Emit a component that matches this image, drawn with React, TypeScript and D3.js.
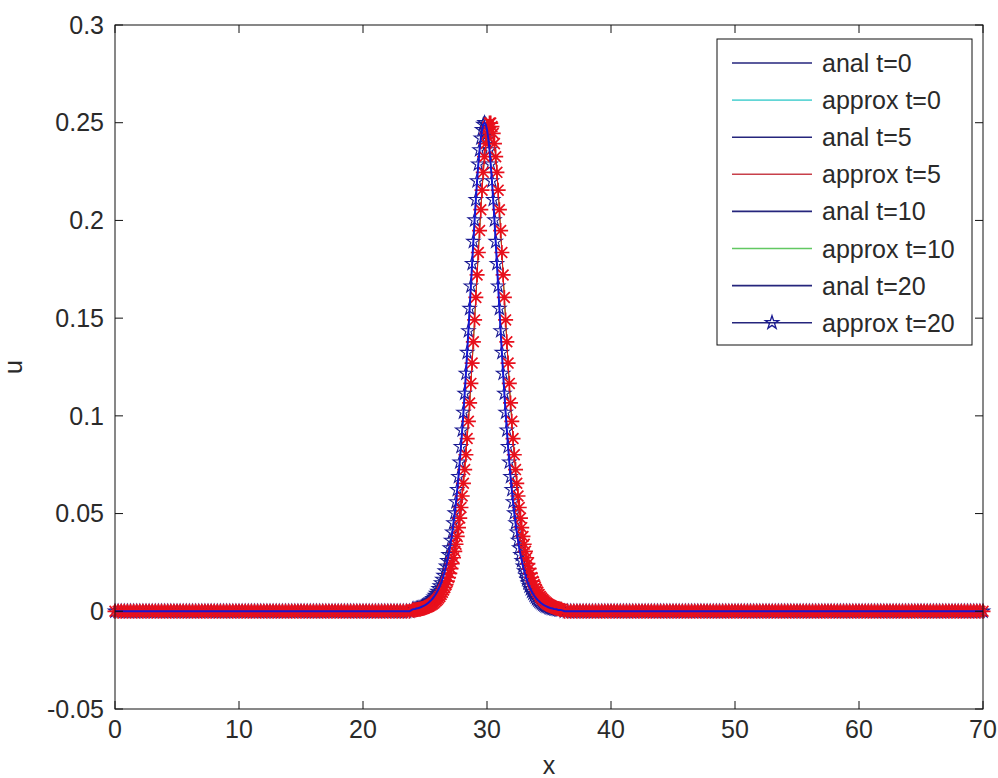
import React from "react";
import * as d3 from "d3";

// u(x) near the pulse, sampled every 0.1 from x=24 to x=36
const peakX = [
  24, 24.1, 24.2, 24.3, 24.4, 24.5, 24.6, 24.7, 24.8, 24.9,
  25, 25.1, 25.2, 25.3, 25.4, 25.5, 25.6, 25.7, 25.8, 25.9,
  26, 26.1, 26.2, 26.3, 26.4, 26.5, 26.6, 26.7, 26.8, 26.9,
  27, 27.1, 27.2, 27.3, 27.4, 27.5, 27.6, 27.7, 27.8, 27.9,
  28, 28.1, 28.2, 28.3, 28.4, 28.5, 28.6, 28.7, 28.8, 28.9,
  29, 29.1, 29.2, 29.3, 29.4, 29.5, 29.6, 29.7, 29.8, 29.9,
  30, 30.1, 30.2, 30.3, 30.4, 30.5, 30.6, 30.7, 30.8, 30.9,
  31, 31.1, 31.2, 31.3, 31.4, 31.5, 31.6, 31.7, 31.8, 31.9,
  32, 32.1, 32.2, 32.3, 32.4, 32.5, 32.6, 32.7, 32.8, 32.9,
  33, 33.1, 33.2, 33.3, 33.4, 33.5, 33.6, 33.7, 33.8, 33.9,
  34, 34.1, 34.2, 34.3, 34.4, 34.5, 34.6, 34.7, 34.8, 34.9,
  35, 35.1, 35.2, 35.3, 35.4, 35.5, 35.6, 35.7, 35.8, 35.9,
  36,
];

// blue curve (anal / approx t=20)
const blueU = [
  0.001, 0.0011, 0.0012, 0.0014, 0.0015, 0.0017, 0.0019, 0.0022, 0.0025, 0.0028,
  0.0031, 0.0035, 0.004, 0.0045, 0.0051, 0.0057, 0.0064, 0.0072, 0.0081, 0.0091,
  0.0102, 0.0115, 0.0129, 0.0145, 0.0163, 0.0183, 0.0206, 0.0231, 0.0259, 0.029,
  0.0324, 0.0363, 0.0405, 0.0452, 0.0503, 0.056, 0.0622, 0.0689, 0.0763, 0.0842,
  0.0927, 0.1018, 0.1115, 0.1217, 0.1324, 0.1435, 0.1549, 0.1664, 0.1779, 0.1892,
  0.2002, 0.2106, 0.2202, 0.2288, 0.2361, 0.2421, 0.2464, 0.2491, 0.25, 0.2491,
  0.2464, 0.2421, 0.2361, 0.2288, 0.2202, 0.2106, 0.2002, 0.1892, 0.1779, 0.1664,
  0.1549, 0.1435, 0.1324, 0.1217, 0.1115, 0.1018, 0.0927, 0.0842, 0.0763, 0.0689,
  0.0622, 0.056, 0.0503, 0.0452, 0.0405, 0.0363, 0.0324, 0.029, 0.0259, 0.0231,
  0.0206, 0.0183, 0.0163, 0.0145, 0.0129, 0.0115, 0.0102, 0.0091, 0.0081, 0.0072,
  0.0064, 0.0057, 0.0051, 0.0045, 0.004, 0.0035, 0.0031, 0.0028, 0.0025, 0.0022,
  0.0019, 0.0017, 0.0015, 0.0014, 0.0012, 0.0011, 0.001, 0.0008, 0.0007, 0.0007,
  0.0006,
];

// red asterisks (approx t=5), a little to the right
const redU = [
  0.0006, 0.0006, 0.0007, 0.0008, 0.0009, 0.001, 0.0011, 0.0013, 0.0014, 0.0016,
  0.0018, 0.0021, 0.0023, 0.0026, 0.003, 0.0033, 0.0037, 0.0042, 0.0048, 0.0054,
  0.006, 0.0068, 0.0076, 0.0086, 0.0097, 0.0109, 0.0122, 0.0137, 0.0154, 0.0173,
  0.0194, 0.0218, 0.0244, 0.0274, 0.0307, 0.0343, 0.0383, 0.0428, 0.0477, 0.0531,
  0.059, 0.0655, 0.0725, 0.0801, 0.0884, 0.0972, 0.1066, 0.1166, 0.127, 0.1379,
  0.1491, 0.1606, 0.1721, 0.1836, 0.1948, 0.2055, 0.2155, 0.2246, 0.2326, 0.2393,
  0.2445, 0.248, 0.2498, 0.2498, 0.248, 0.2445, 0.2393, 0.2326, 0.2246, 0.2155,
  0.2055, 0.1948, 0.1836, 0.1721, 0.1606, 0.1491, 0.1379, 0.127, 0.1166, 0.1066,
  0.0972, 0.0884, 0.0801, 0.0725, 0.0655, 0.059, 0.0531, 0.0477, 0.0428, 0.0383,
  0.0343, 0.0307, 0.0274, 0.0244, 0.0218, 0.0194, 0.0173, 0.0154, 0.0137, 0.0122,
  0.0109, 0.0097, 0.0086, 0.0076, 0.0068, 0.006, 0.0054, 0.0048, 0.0042, 0.0037,
  0.0033, 0.003, 0.0026, 0.0023, 0.0021, 0.0018, 0.0016, 0.0014, 0.0013, 0.0011,
  0.001,
];

// flat parts of the domain, where every curve sits at u = 0
const leftTailX = [
  0, 0.25, 0.5, 0.75, 1, 1.25, 1.5, 1.75, 2, 2.25, 2.5, 2.75, 3, 3.25, 3.5, 3.75,
  4, 4.25, 4.5, 4.75, 5, 5.25, 5.5, 5.75, 6, 6.25, 6.5, 6.75, 7, 7.25, 7.5, 7.75,
  8, 8.25, 8.5, 8.75, 9, 9.25, 9.5, 9.75, 10, 10.25, 10.5, 10.75, 11, 11.25, 11.5, 11.75,
  12, 12.25, 12.5, 12.75, 13, 13.25, 13.5, 13.75, 14, 14.25, 14.5, 14.75, 15, 15.25, 15.5, 15.75,
  16, 16.25, 16.5, 16.75, 17, 17.25, 17.5, 17.75, 18, 18.25, 18.5, 18.75, 19, 19.25, 19.5, 19.75,
  20, 20.25, 20.5, 20.75, 21, 21.25, 21.5, 21.75, 22, 22.25, 22.5, 22.75, 23, 23.25, 23.5, 23.75,
];
const rightTailX = [
  36.25, 36.5, 36.75, 37, 37.25, 37.5, 37.75, 38, 38.25, 38.5, 38.75, 39, 39.25, 39.5, 39.75,
  40, 40.25, 40.5, 40.75, 41, 41.25, 41.5, 41.75, 42, 42.25, 42.5, 42.75, 43, 43.25, 43.5, 43.75,
  44, 44.25, 44.5, 44.75, 45, 45.25, 45.5, 45.75, 46, 46.25, 46.5, 46.75, 47, 47.25, 47.5, 47.75,
  48, 48.25, 48.5, 48.75, 49, 49.25, 49.5, 49.75, 50, 50.25, 50.5, 50.75, 51, 51.25, 51.5, 51.75,
  52, 52.25, 52.5, 52.75, 53, 53.25, 53.5, 53.75, 54, 54.25, 54.5, 54.75, 55, 55.25, 55.5, 55.75,
  56, 56.25, 56.5, 56.75, 57, 57.25, 57.5, 57.75, 58, 58.25, 58.5, 58.75, 59, 59.25, 59.5, 59.75,
  60, 60.25, 60.5, 60.75, 61, 61.25, 61.5, 61.75, 62, 62.25, 62.5, 62.75, 63, 63.25, 63.5, 63.75,
  64, 64.25, 64.5, 64.75, 65, 65.25, 65.5, 65.75, 66, 66.25, 66.5, 66.75, 67, 67.25, 67.5, 67.75,
  68, 68.25, 68.5, 68.75, 69, 69.25, 69.5, 69.75, 70,
];

const xTicks = [0, 10, 20, 30, 40, 50, 60, 70];
const yTicks = [-0.05, 0, 0.05, 0.1, 0.15, 0.2, 0.25, 0.3];

const legendLabels = [
  "anal t=0",
  "approx t=0",
  "anal t=5",
  "approx t=5",
  "anal t=10",
  "approx t=10",
  "anal t=20",
  "approx t=20",
];
const legendColors = ["#25257c", "#62d6d6", "#25257c", "#c8404a", "#25257c", "#62c862", "#25257c", "#25257c"];

const FONT = "'Liberation Sans', Arial, sans-serif";
const TEXT = "#2a2a2a";

// pentagram marker, like matlab 'p'
const starPath = (() => {
  const R = 7;
  const r = R * 0.382;
  const pts: string[] = [];
  for (let k = 0; k < 10; k++) {
    const rad = k % 2 === 0 ? R : r;
    const a = (-90 + k * 36) * (Math.PI / 180);
    pts.push(`${(rad * Math.cos(a)).toFixed(2)},${(rad * Math.sin(a)).toFixed(2)}`);
  }
  return "M" + pts.join("L") + "Z";
})();

// asterisk marker, like matlab '*'
const astPath = (() => {
  const r = 7.5;
  const d = r * 0.72;
  return `M${-r},0L${r},0M0,${-r}L0,${r}M${-d},${-d}L${d},${d}M${-d},${d}L${d},${-d}`;
})();

export default function App() {
  const x = d3.scaleLinear().domain([0, 70]).range([115, 983]);
  const y = d3.scaleLinear().domain([-0.05, 0.3]).range([709, 25]);
  const [x0, x1] = x.range();
  const [y0, y1] = y.range();

  const tail = (xs: number[]) => xs.map((v) => [v, 0] as [number, number]);
  const blue: [number, number][] = [
    ...tail(leftTailX),
    ...peakX.map((v, i) => [v, blueU[i]] as [number, number]),
    ...tail(rightTailX),
  ];
  const red: [number, number][] = [
    ...tail(leftTailX),
    ...peakX.map((v, i) => [v, redU[i]] as [number, number]),
    ...tail(rightTailX),
  ];

  const line = d3
    .line<[number, number]>()
    .x((d) => x(d[0]))
    .y((d) => y(d[1]));

  const tickLen = 8;
  const fmt = (t: number) => String(+t.toFixed(2));

  // legend geometry
  const lg = { x: 717, y: 39, w: 255, h: 306 };
  const rowH = 37.1;
  const firstRow = 63;

  return (
    <svg
      width={998}
      height={778}
      style={{ position: "absolute", left: 0, top: 0, background: "#fff" }}
      fontFamily={FONT}
    >
      <rect x={0} y={0} width={998} height={778} fill="#fff" />

      {/* hidden series underneath */}
      <path d={line(blue) || ""} fill="none" stroke="#00cccc" strokeWidth={1} />
      <path d={line(red) || ""} fill="none" stroke="#00cc00" strokeWidth={1} />

      {/* approx t=20 : pentagrams */}
      <g fill="none" stroke="#1a1a92" strokeWidth={1.1}>
        {blue.map((d, i) => (
          <path key={"p" + i} d={starPath} transform={`translate(${x(d[0])},${y(d[1])})`} />
        ))}
      </g>

      {/* approx t=5 : red asterisks */}
      <path d={line(red) || ""} fill="none" stroke="#e8101c" strokeWidth={1} />
      <g fill="none" stroke="#e8101c" strokeWidth={1.7}>
        {red.map((d, i) => (
          <path key={"a" + i} d={astPath} transform={`translate(${x(d[0])},${y(d[1])})`} />
        ))}
      </g>

      {/* analytic line on top */}
      <path d={line(blue) || ""} fill="none" stroke="#1616d2" strokeWidth={2} />

      {/* axes box */}
      <rect x={x0} y={y1} width={x1 - x0} height={y0 - y1} fill="none" stroke="#111" strokeWidth={1} />

      {/* x ticks */}
      {xTicks.map((t) => (
        <g key={"xt" + t}>
          <line x1={x(t)} x2={x(t)} y1={y0} y2={y0 - tickLen} stroke="#111" />
          <line x1={x(t)} x2={x(t)} y1={y1} y2={y1 + tickLen} stroke="#111" />
          <text x={x(t)} y={y0 + 29} textAnchor="middle" fontSize={25} fill={TEXT}>
            {fmt(t)}
          </text>
        </g>
      ))}

      {/* y ticks */}
      {yTicks.map((t) => (
        <g key={"yt" + t}>
          <line x1={x0} x2={x0 + tickLen} y1={y(t)} y2={y(t)} stroke="#111" />
          <line x1={x1} x2={x1 - tickLen} y1={y(t)} y2={y(t)} stroke="#111" />
          <text x={x0 - 11} y={y(t)} dy="0.35em" textAnchor="end" fontSize={25} fill={TEXT}>
            {fmt(t)}
          </text>
        </g>
      ))}

      {/* axis labels */}
      <text x={(x0 + x1) / 2} y={774} textAnchor="middle" fontSize={25} fill={TEXT}>
        x
      </text>
      <text
        transform={`translate(22,${(y0 + y1) / 2}) rotate(-90)`}
        textAnchor="middle"
        fontSize={25}
        fill={TEXT}
      >
        u
      </text>

      {/* legend */}
      <rect x={lg.x} y={lg.y} width={lg.w} height={lg.h} fill="#fff" stroke="#111" strokeWidth={1} />
      {legendLabels.map((label, i) => {
        const cy = firstRow + i * rowH;
        return (
          <g key={label}>
            <line x1={732} x2={812} y1={cy} y2={cy} stroke={legendColors[i]} strokeWidth={1.6} />
            {i === 7 && (
              <path d={starPath} transform={`translate(772,${cy})`} fill="none" stroke="#1a1a92" strokeWidth={1.3} />
            )}
            <text x={822} y={cy} dy="0.36em" fontSize={25} fill={TEXT}>
              {label}
            </text>
          </g>
        );
      })}
    </svg>
  );
}
